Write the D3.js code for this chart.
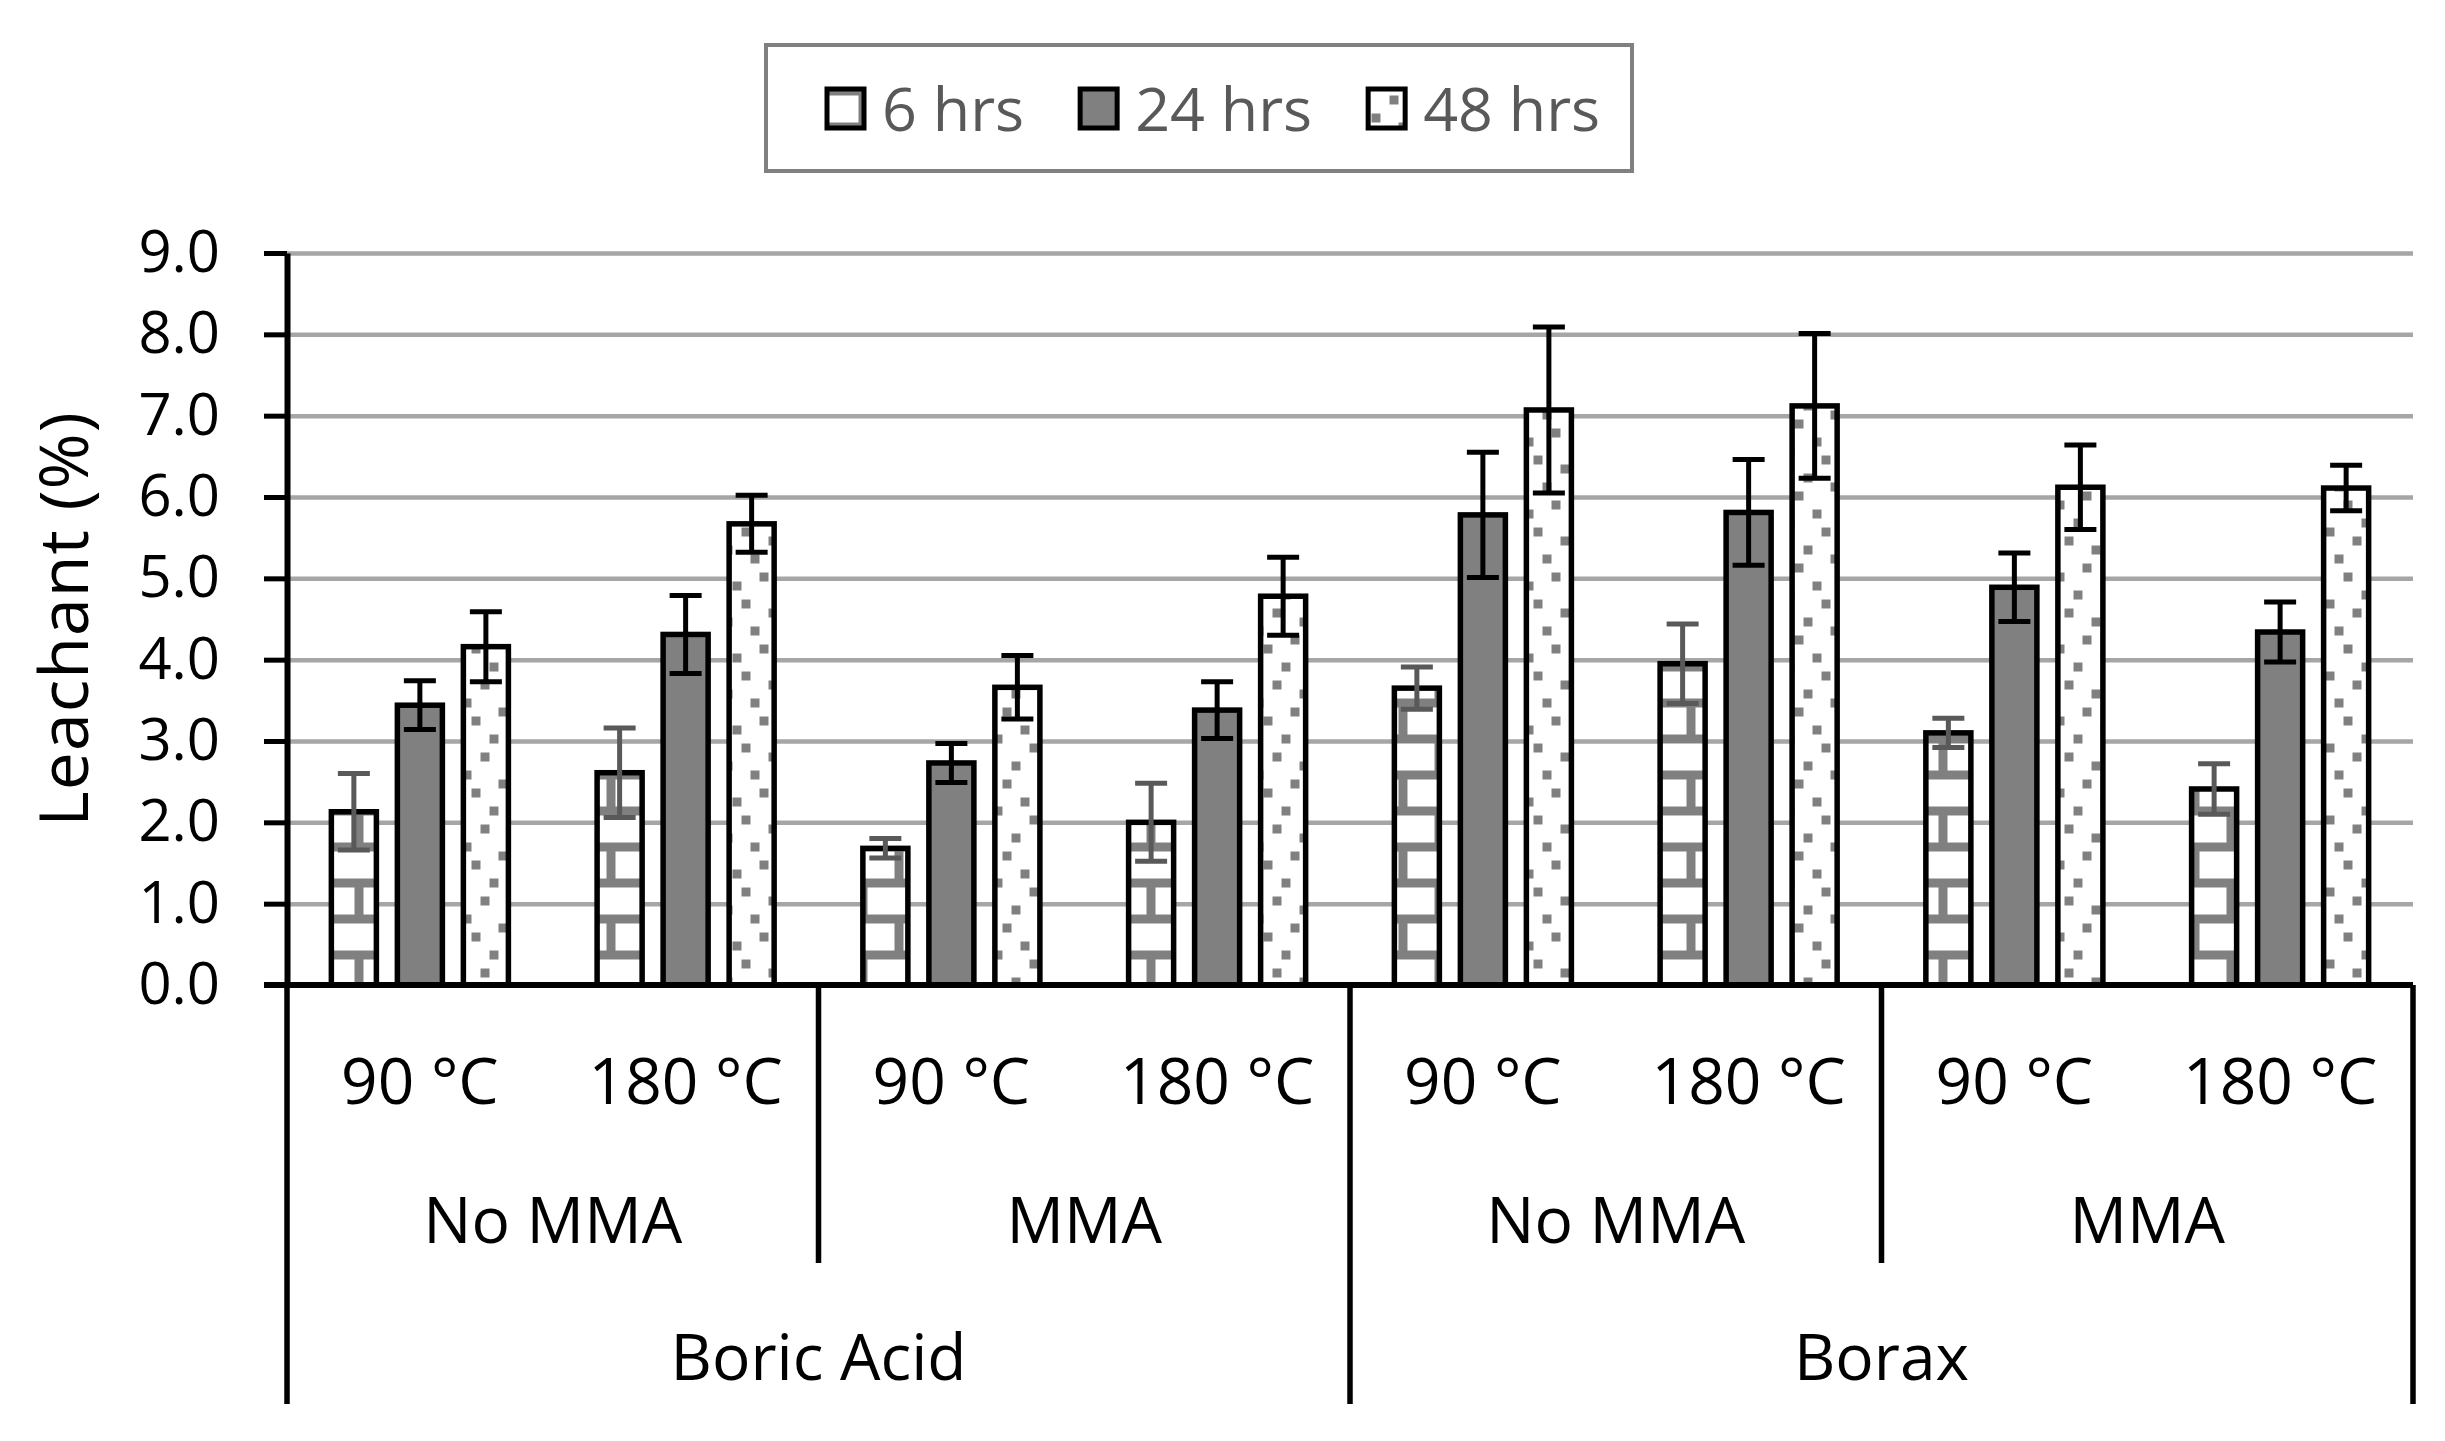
<!DOCTYPE html>
<html>
<head>
<meta charset="utf-8">
<script src="https://cdn.jsdelivr.net/npm/d3@7"></script>
<style>
  body { margin: 0; background: #fff; }
  text { font-family: 'Open Sans', sans-serif; }
</style>
</head>
<body>
<div id="chart"></div>
<script>
// data
const series = ['6 hrs', '24 hrs', '48 hrs'];
const treatments = ['Boric Acid', 'Borax'];
const mmaGroups = ['No MMA', 'MMA'];
const temps = ['90 °C', '180 °C'];
const yTicks = [0, 1, 2, 3, 4, 5, 6, 7, 8, 9];

const values6 = [2.13, 2.61, 1.68, 2.00, 3.65, 3.95, 3.10, 2.41];
const values24 = [3.44, 4.31, 2.73, 3.38, 5.78, 5.81, 4.89, 4.34];
const values48 = [4.16, 5.67, 3.66, 4.78, 7.07, 7.12, 6.12, 6.11];
const err6 = [0.47, 0.55, 0.12, 0.48, 0.26, 0.49, 0.18, 0.31];
const err24 = [0.30, 0.48, 0.24, 0.35, 0.77, 0.65, 0.42, 0.37];
const err48 = [0.43, 0.35, 0.39, 0.48, 1.02, 0.89, 0.52, 0.28];

const values = [values6, values24, values48];
const errs = [err6, err24, err48];

const width = 2445;
const height = 1441;
const plotLeft = 287;
const plotRight = 2413;
const plotTop = 253;
const plotBottom = 985;

const clusters = d3.cross(treatments, mmaGroups, temps).map((d, i) => ({
  treatment: d[0], mma: d[1], temp: d[2], key: d.join('|'), i,
}));

const svg = d3.select('#chart')
  .append('svg')
  .attr('width', width)
  .attr('height', height);

// patterns (8x8 cells, 9px each, tiled over the whole chart)
const defs = svg.append('defs');
const cell = 9;
const brick = defs.append('pattern')
  .attr('id', 'brick')
  .attr('patternUnits', 'userSpaceOnUse')
  .attr('x', 3.5).attr('y', -3.5)
  .attr('width', cell * 8).attr('height', cell * 8);
brick.append('rect').attr('width', 72).attr('height', 72).attr('fill', '#fff');
[[0, 2, 8, 1], [0, 6, 8, 1], [7, 3, 1, 3], [3, 7, 1, 1], [3, 0, 1, 2]].forEach((r) => {
  brick.append('rect')
    .attr('x', r[0] * cell).attr('y', r[1] * cell)
    .attr('width', r[2] * cell).attr('height', r[3] * cell)
    .attr('fill', '#808080');
});
const dots = defs.append('pattern')
  .attr('id', 'dots')
  .attr('patternUnits', 'userSpaceOnUse')
  .attr('x', 3.5).attr('y', -3.5)
  .attr('width', cell * 8).attr('height', cell * 8);
dots.append('rect').attr('width', 72).attr('height', 72).attr('fill', '#fff');
[[0, 5], [1, 1], [2, 3], [3, 6], [4, 0], [5, 4], [6, 2], [7, 7]].forEach((p) => {
  dots.append('rect')
    .attr('x', p[0] * cell).attr('y', p[1] * cell)
    .attr('width', cell).attr('height', cell)
    .attr('fill', '#808080');
});
const fills = ['url(#brick)', '#808080', 'url(#dots)'];
const errColors = ['#595959', '#000', '#000'];

// scales
const x = d3.scaleBand()
  .domain(clusters.map((c) => c.key))
  .range([plotLeft, plotRight]);
const xs = d3.scaleBand()
  .domain(series)
  .range([0, x.bandwidth()])
  .paddingInner(0.318)
  .paddingOuter(0.672);
const y = d3.scaleLinear().domain([0, 9]).range([plotBottom, plotTop]);
const xt = d3.scaleBand().domain(treatments).range([plotLeft, plotRight]);
const xm = d3.scaleBand().domain(mmaGroups).range([0, xt.bandwidth()]);

// gridlines
svg.append('g')
  .attr('transform', `translate(${plotLeft},0)`)
  .call(d3.axisLeft(y).tickValues(yTicks.slice(1)).tickSize(-(plotRight - plotLeft)).tickFormat(''))
  .call((g) => g.select('.domain').remove())
  .call((g) => g.selectAll('line').attr('stroke', '#a6a6a6').attr('stroke-width', 4.5));

// bars
const bars = [];
clusters.forEach((c) => {
  series.forEach((s, j) => {
    bars.push({ c, s, j, v: values[j][c.i], e: errs[j][c.i] });
  });
});

svg.append('g')
  .selectAll('rect')
  .data(bars)
  .enter()
  .append('rect')
  .attr('x', (d) => x(d.c.key) + xs(d.s))
  .attr('y', (d) => y(d.v))
  .attr('width', xs.bandwidth())
  .attr('height', (d) => y(0) - y(d.v))
  .attr('fill', (d) => fills[d.j])
  .attr('stroke', '#000')
  .attr('stroke-width', 5.5);

// error bars
const eb = svg.append('g')
  .selectAll('g')
  .data(bars)
  .enter()
  .append('g')
  .attr('stroke', (d) => errColors[d.j])
  .attr('stroke-width', 5);
const cx = (d) => x(d.c.key) + xs(d.s) + xs.bandwidth() / 2;
eb.append('line')
  .attr('x1', cx).attr('x2', cx)
  .attr('y1', (d) => y(d.v + d.e)).attr('y2', (d) => y(d.v - d.e));
eb.append('line')
  .attr('x1', (d) => cx(d) - 16).attr('x2', (d) => cx(d) + 16)
  .attr('y1', (d) => y(d.v + d.e)).attr('y2', (d) => y(d.v + d.e));
eb.append('line')
  .attr('x1', (d) => cx(d) - 16).attr('x2', (d) => cx(d) + 16)
  .attr('y1', (d) => y(d.v - d.e)).attr('y2', (d) => y(d.v - d.e));

// y axis
svg.append('g')
  .attr('transform', `translate(${plotLeft},0)`)
  .call(d3.axisLeft(y).tickValues(yTicks).tickSize(23).tickSizeOuter(0).tickPadding(44)
    .tickFormat((d) => d.toFixed(1)))
  .call((g) => g.select('.domain').attr('stroke', '#000').attr('stroke-width', 6))
  .call((g) => g.selectAll('line').attr('stroke', '#000').attr('stroke-width', 5))
  .call((g) => g.selectAll('text')
    .attr('fill', '#000')
    .style('font-family', "'Open Sans', sans-serif")
    .style('font-size', '58px'));

svg.append('text')
  .attr('transform', `translate(88,${(plotTop + plotBottom) / 2}) rotate(-90)`)
  .attr('text-anchor', 'middle')
  .attr('font-size', 68)
  .attr('letter-spacing', 1)
  .attr('fill', '#000')
  .text('Leachant (%)');

// category axis
svg.append('line')
  .attr('x1', plotLeft - 23).attr('x2', plotRight)
  .attr('y1', plotBottom).attr('y2', plotBottom)
  .attr('stroke', '#000')
  .attr('stroke-width', 6);

const sepLong = [plotLeft].concat(treatments.map((t) => xt(t) + xt.bandwidth()));
const sepShort = treatments.map((t) => xt(t) + xm('MMA'));
svg.append('g')
  .selectAll('line')
  .data(sepLong)
  .enter()
  .append('line')
  .attr('x1', (d) => d).attr('x2', (d) => d)
  .attr('y1', plotBottom).attr('y2', 1404)
  .attr('stroke', '#000')
  .attr('stroke-width', 5.5);
svg.append('g')
  .selectAll('line')
  .data(sepShort)
  .enter()
  .append('line')
  .attr('x1', (d) => d).attr('x2', (d) => d)
  .attr('y1', plotBottom).attr('y2', 1263)
  .attr('stroke', '#000')
  .attr('stroke-width', 5.5);

svg.append('g')
  .selectAll('text')
  .data(clusters)
  .enter()
  .append('text')
  .attr('x', (d) => x(d.key) + x.bandwidth() / 2)
  .attr('y', 1104)
  .attr('text-anchor', 'middle')
  .attr('font-size', 64)
  .text((d) => d.temp);

const mmaCells = d3.cross(treatments, mmaGroups);
svg.append('g')
  .selectAll('text')
  .data(mmaCells)
  .enter()
  .append('text')
  .attr('x', (d) => xt(d[0]) + xm(d[1]) + xm.bandwidth() / 2)
  .attr('y', 1243)
  .attr('text-anchor', 'middle')
  .attr('font-size', 64)
  .text((d) => d[1]);

svg.append('g')
  .selectAll('text')
  .data(treatments)
  .enter()
  .append('text')
  .attr('x', (d) => xt(d) + xt.bandwidth() / 2)
  .attr('y', 1380)
  .attr('text-anchor', 'middle')
  .attr('font-size', 64)
  .text((d) => d);

// legend
svg.append('rect')
  .attr('x', 766).attr('y', 45)
  .attr('width', 866).attr('height', 126)
  .attr('fill', '#fff')
  .attr('stroke', '#808080')
  .attr('stroke-width', 4);
const legend = svg.append('g');
let lx = 827;
series.forEach((s, j) => {
  legend.append('rect')
    .attr('x', lx).attr('y', 89)
    .attr('width', 37).attr('height', 39)
    .attr('fill', fills[j])
    .attr('stroke', '#000')
    .attr('stroke-width', 5);
  const t = legend.append('text')
    .attr('x', lx + 55).attr('y', 131)
    .attr('font-size', 61)
    .attr('fill', '#595959')
    .text(s);
  lx += 55 + t.node().getComputedTextLength() + 56;
});
</script>
</body>
</html>
